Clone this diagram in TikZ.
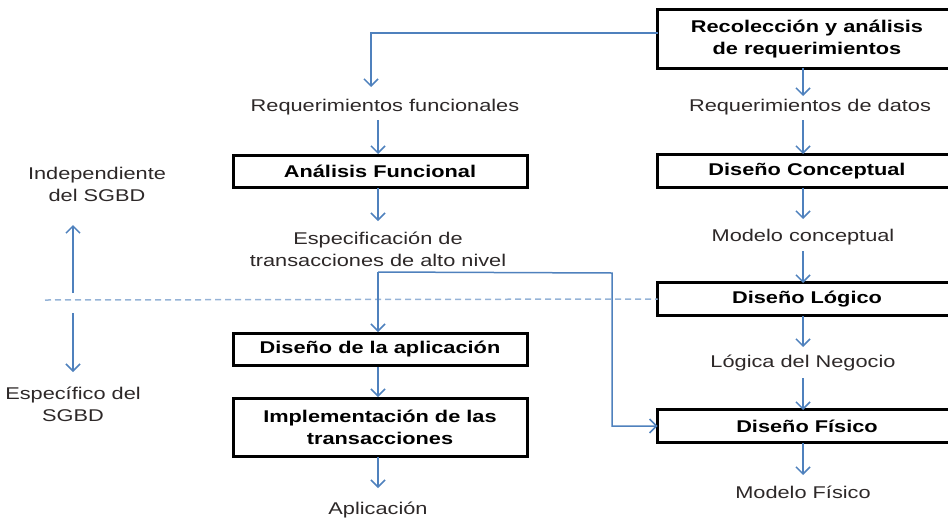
\documentclass[tikz,border=0pt]{standalone}
\usepackage{fontspec}
\setmainfont{Liberation Sans}[FakeStretch=1.28]
\usetikzlibrary{arrows.meta}
\definecolor{arrblue}{RGB}{79,129,189}
\definecolor{dashblue}{RGB}{149,179,215}
\definecolor{txtgray}{RGB}{45,40,40}
\tikzset{
  boxR/.style={minimum width=149pt, minimum height=16pt, inner sep=0pt, align=center, font=\fontsize{8.5}{11}\selectfont\bfseries},
  openbox/.style={draw=black, line width=1.5pt},
  boxL/.style={draw=black, line width=1.5pt, minimum width=147pt, minimum height=16pt, inner sep=0pt, align=center, font=\fontsize{8.5}{11}\selectfont\bfseries},
  lbl/.style={text=txtgray, align=center, inner sep=1pt, font=\fontsize{8.5}{11}\selectfont},
  arr/.style={draw=arrblue, line width=0.75pt, -{Straight Barb[length=3.5pt,width=7pt]}},
  dsh/.style={draw=dashblue, line width=0.75pt, dash pattern=on 3pt off 2pt}
}
\begin{document}
\begin{tikzpicture}[x=0.5pt,y=-0.5pt]
\useasboundingbox (0,0) rectangle (948,520);
% right column (boxes run off the right edge)
\node[boxR, minimum height=29pt] (rec) at (807,39) {Recolección y análisis\\de requerimientos};
\node[lbl] (reqd) at (810,107) {Requerimientos de datos};
\node[boxR] (concep) at (807,171) {Diseño Conceptual};
\node[lbl] (modc) at (803,237) {Modelo conceptual};
\node[boxR] (logico) at (807,299) {Diseño Lógico};
\node[lbl] (logn) at (803,363) {Lógica del Negocio};
\node[boxR] (fisico) at (807,426) {Diseño Físico};
\node[lbl] (modf) at (803,492) {Modelo Físico};
\foreach \b in {rec,concep,logico,fisico}
  \draw[openbox] ([xshift=20pt]\b.north east) -- (\b.north west) -- (\b.south west) -- ([xshift=20pt]\b.south east);
% left column
\node[lbl] (reqf) at (385,107) {Requerimientos funcionales};
\node[boxL] (analisis) at (380,171) {Análisis Funcional};
\node[lbl] (espec) at (378,249) {Especificación de\\transacciones de alto nivel};
\node[boxL] (aplic) at (380,349.5) {Diseño de la aplicación};
\node[boxL, minimum height=29pt] (impl) at (380,427) {Implementación de las\\transacciones};
\node[lbl] (aplicacion) at (378,510) {Aplicación};
% side labels
\node[lbl] (indep) at (97,184) {Independiente\\del SGBD};
\node[lbl] (espsgbd) at (73,404) {Específico del\\SGBD};
% coordinates
\coordinate (c1) at (371,87);
\coordinate (bx) at (612,273);
\coordinate (dl) at (45,300);
\coordinate (upA) at (73,293);
\coordinate (upB) at (73,225);
\coordinate (dnA) at (73,313);
\coordinate (dnB) at (73,372);
\coordinate (esp) at (378,272);
% dashed divider
\draw[dsh] (dl) -- (logico.west);
% right column arrows
\draw[arr] (803,68) -- (803,96);
\draw[arr] (803,120) -- (803,154);
\draw[arr] (803,188) -- (803,219);
\draw[arr] (803,251) -- (803,283);
\draw[arr] (803,316) -- (803,347);
\draw[arr] (803,378) -- (803,410);
\draw[arr] (803,443) -- (803,475);
% left column arrows
\draw[arr] ([yshift=3pt]rec.west) -| (c1);
\draw[arr] (378,120) -- (378,154);
\draw[arr] (378,188) -- (378,221);
\draw[arr] (esp) -- (378,332);
\draw[arr] (esp) -- (bx) |- (fisico.west);
\draw[arr] (378,367) -- (378,397);
\draw[arr] (378,457) -- (378,488);
% side arrows
\draw[arr] (upA) -- (upB);
\draw[arr] (dnA) -- (dnB);
\end{tikzpicture}
\end{document}
